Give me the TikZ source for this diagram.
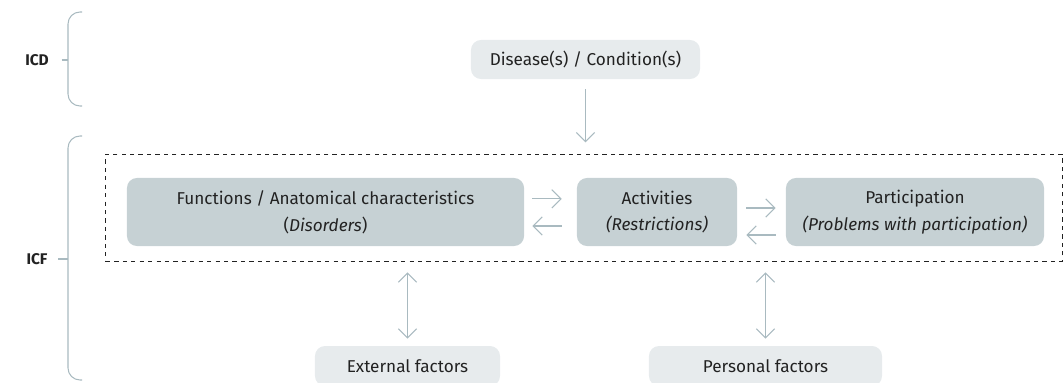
\documentclass[tikz,border=0pt]{standalone}
\usepackage{fontspec}
\setmainfont{Fira Sans}
\usetikzlibrary{arrows.meta}
\definecolor{boxdark}{HTML}{C6D1D4}
\definecolor{boxlight}{HTML}{E7EBED}
\definecolor{linea}{HTML}{A9BAC0}
\definecolor{testo}{HTML}{222222}
\begin{document}
\begin{tikzpicture}[
  x=0.025cm, y=-0.025cm,
  font=\fontsize{12.2}{19}\selectfont, text=testo,
  blocco/.style={fill=boxdark, rounded corners=0.25cm, align=center,
                 inner sep=2pt, minimum height=1.7cm},
  fattore/.style={fill=boxlight, rounded corners=0.25cm, align=center,
                  inner sep=2pt, minimum height=1.0cm},
  freccia/.style={draw=linea, line width=0.75pt,
                  -{Straight Barb[length=6.5pt,width=13pt,line width=0.75pt]}},
  doppia/.style={freccia, {Straight Barb[length=6.5pt,width=13pt,line width=0.75pt]}-{Straight Barb[length=6.5pt,width=13pt,line width=0.75pt]}},
  graffa/.style={draw=linea, line width=0.75pt, rounded corners=0.3cm},
  etichetta/.style={font=\fontsize{11}{13}\selectfont\bfseries}
]
\useasboundingbox (0,0) rectangle (1064,382);
\clip (0,0) rectangle (1064,382);

% ---- classificazioni a sinistra ------------------------------------
\node[etichetta] (icd) at (37,60) {ICD};
\node[etichetta] (icf) at (37,259) {ICF};
\draw[graffa] (82,12) -- (68,12) -- (68,106) -- (82,106);
\draw[graffa] (82,136) -- (68,136) -- (68,380) -- (82,380);
\coordinate (icdbrace) at (68,60);
\coordinate (icfbrace) at (68,259);
\draw[draw=linea, line width=0.75pt] ([xshift=0.2cm]icd.east) -- (icdbrace);
\draw[draw=linea, line width=0.75pt] ([xshift=0.15cm]icf.east) -- (icfbrace);

% ---- blocchi -------------------------------------------------------
\node[fattore, minimum width=5.725cm, minimum height=0.975cm] (malattia) at (585.5,59.5)
  {Disease(s) / Condition(s)};
\node[draw=testo, dashed, line width=0.6pt, minimum width=23.9cm,
      minimum height=2.675cm, inner sep=0pt] (cornice) at (584,207.5) {};
\node[blocco, minimum width=9.925cm] (funzioni) at (325.5,212)
  {Functions / Anatomical characteristics\\(\textit{Disorders})};
\node[blocco, minimum width=4.0cm] (attivita) at (657,212)
  {Activities\\\textit{(Restrictions)}};
\node[blocco, minimum width=6.45cm] (partecipazione) at (915,212)
  {Participation\\\textit{(Problems with participation)}};
\node[fattore, minimum width=4.625cm] (esterni) at (407.5,366) {External factors};
\node[fattore, minimum width=5.825cm] (personali) at (765.5,366) {Personal factors};

% ---- collegamenti --------------------------------------------------
\draw[freccia, shorten <=0.25cm, shorten >=0.28cm]
  (malattia.south) -- (malattia.south |- cornice.north);
\draw[freccia, shorten <=0.2cm, shorten >=0.375cm]
  ([yshift=0.33cm]funzioni.east) -- ([yshift=0.33cm]attivita.west);
\draw[freccia, shorten <=0.375cm, shorten >=0.2cm]
  ([yshift=-0.35cm]attivita.west) -- ([yshift=-0.35cm]funzioni.east);
\draw[freccia, shorten <=0.225cm, shorten >=0.25cm]
  ([yshift=0.1cm]attivita.east) -- ([yshift=0.1cm]partecipazione.west);
\draw[freccia, shorten <=0.25cm, shorten >=0.225cm]
  ([yshift=-0.575cm]partecipazione.west) -- ([yshift=-0.575cm]attivita.east);
\draw[doppia, shorten <=0.275cm, shorten >=0.175cm]
  (esterni.north |- cornice.south) -- (esterni.north);
\draw[doppia, shorten <=0.275cm, shorten >=0.175cm]
  (personali.north |- cornice.south) -- (personali.north);

\end{tikzpicture}
\end{document}
